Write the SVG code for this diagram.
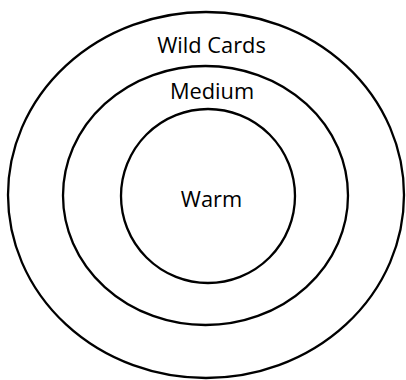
<svg xmlns="http://www.w3.org/2000/svg" width="406" height="380" viewBox="0 0 406 380">
<style>
.ring{fill:none;stroke:#000;stroke-width:2.3}
.lbl{font-family:"Open Sans","Liberation Sans",sans-serif;font-size:21.8px;fill:#000;text-anchor:middle}
</style>
<rect width="406" height="380" fill="#fff"/>
<g id="wildcards"><ellipse class="ring" cx="206" cy="195" rx="198" ry="183"/><text class="lbl" x="211.5" y="52.5">Wild Cards</text></g>
<g id="medium"><ellipse class="ring" cx="205.5" cy="195.5" rx="142.5" ry="129.5"/><text class="lbl" x="212" y="99">Medium</text></g>
<g id="warm"><ellipse class="ring" cx="208" cy="196" rx="87" ry="87"/><text class="lbl" x="211.5" y="206.5">Warm</text></g>
<g id="connectors"></g>
</svg>
